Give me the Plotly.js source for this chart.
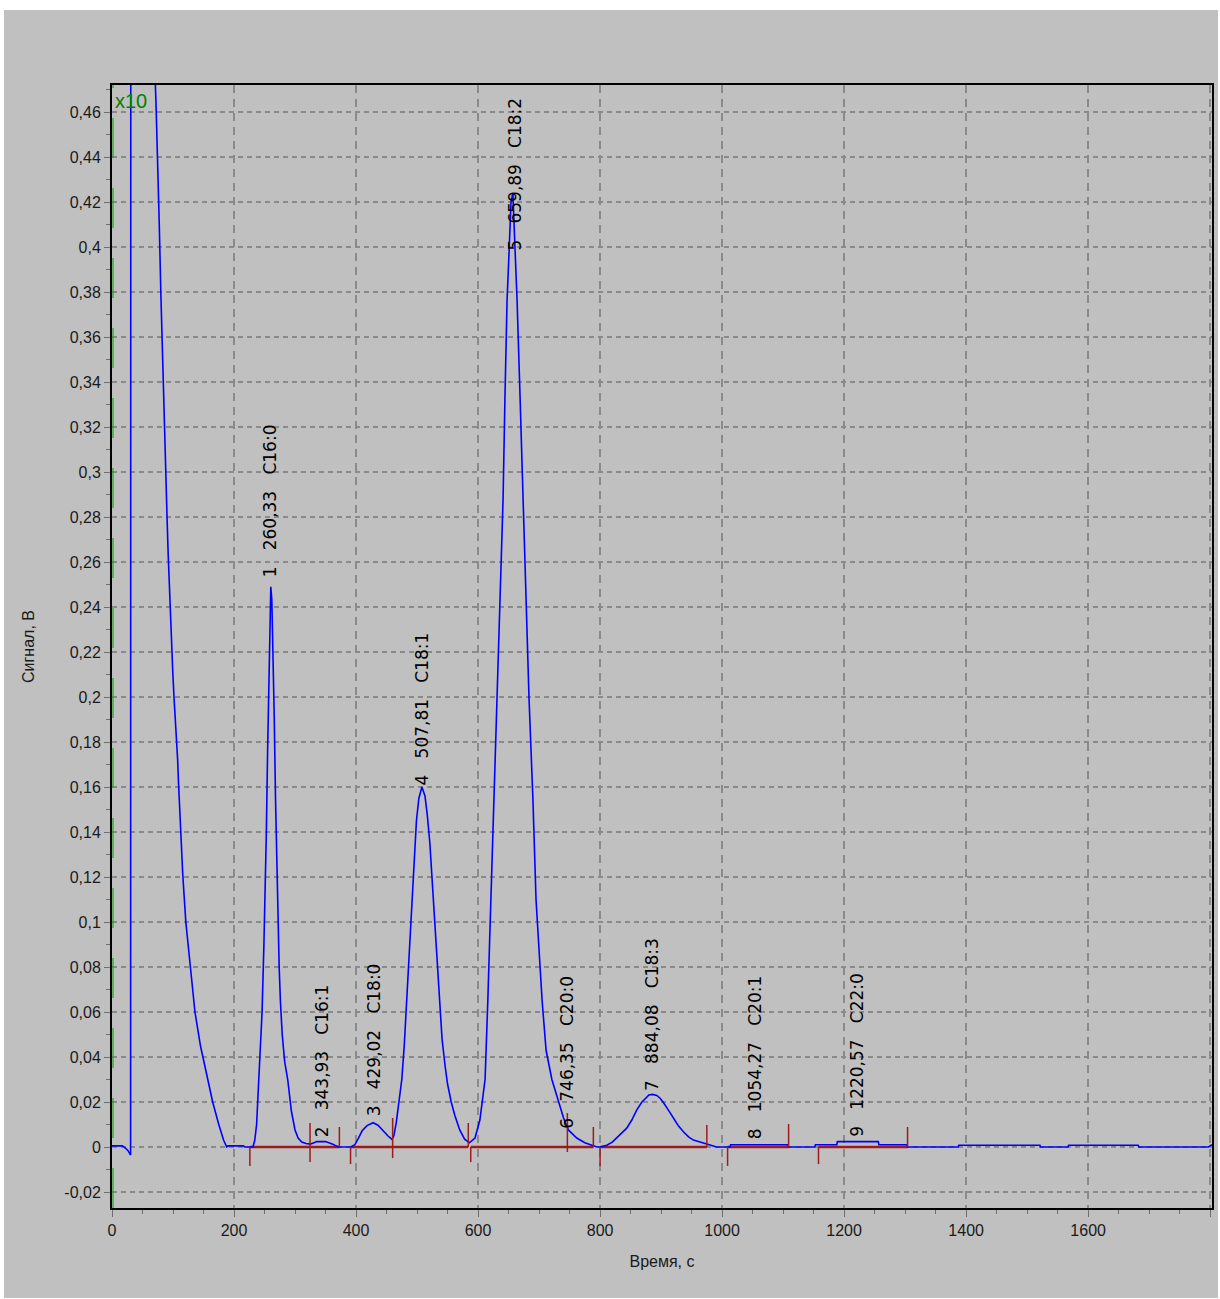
<!DOCTYPE html>
<html><head><meta charset="utf-8">
<script src="https://cdn.plot.ly/plotly-3.0.1.min.js"></script>
<style>
html,body{margin:0;padding:0;background:#fff;}
#chart{position:absolute;left:4px;top:10px;width:1214px;height:1288px;}
</style></head><body><div id="chart"></div>
<script>
// Chromatogram trace (time, s / signal, V)
const timeS = [
  0, 17, 21, 26, 30.5, 31.2, 60, 68, 70,
  72, 75, 77.5, 80, 82, 84, 86, 88, 90, 92, 94, 96, 98, 99.5, 101.6, 105, 107.6, 109, 112, 116, 121, 128, 136, 145, 155, 165, 175, 183, 188, 190, 215, 218, 231,
  234, 237, 239, 241, 243, 246, 249, 251, 253, 255, 257, 259, 260.3, 262, 264, 266, 268, 270, 272, 274, 276, 279, 283, 288, 294, 300, 305, 311, 318, 325, 330, 336, 350, 358, 362, 368, 372, 392,
  398, 404, 410, 418, 428, 436, 445, 452, 459,
  462, 466, 470, 475, 479, 483, 487, 491, 495, 499, 503, 508, 513, 517, 521, 525, 529, 533, 537, 541, 546, 550, 556, 562, 570, 578, 585.7,
  595, 603, 611.5, 616, 621, 626, 631, 636, 641, 644, 647.5, 651, 654, 657, 661, 664, 669, 674, 679, 683.6, 690, 695, 705, 711.5, 721, 731, 740, 748, 761.8, 775, 789, 795, 800,
  811, 820, 827, 835, 843.7, 852, 860, 868, 876.6, 880, 886, 893, 898, 903.8, 912, 920, 928, 936.6, 945, 953, 969, 983, 991, 1013, 1014, 1108, 1109, 1152, 1153, 1188, 1189, 1256, 1257, 1303, 1304, 1387, 1388, 1521, 1522, 1567, 1568, 1682, 1683, 1797, 1803
];
const signalV = [
  0.0005, 0.0005, -0.0003, -0.0015, -0.0036, 1.2, 1.2, 0.6, 0.48,
  0.465, 0.44, 0.41, 0.38, 0.36, 0.33, 0.31, 0.298, 0.282, 0.264, 0.248, 0.236, 0.224, 0.212, 0.2, 0.186, 0.172, 0.162, 0.142, 0.121, 0.1, 0.08, 0.06, 0.045, 0.032, 0.02, 0.01, 0.003, 0, 0.0005, 0.0005, 0, 0,
  0.003, 0.01, 0.02, 0.03, 0.045, 0.06, 0.09, 0.11, 0.14, 0.175, 0.21, 0.24, 0.249, 0.243, 0.22, 0.19, 0.155, 0.125, 0.1, 0.08, 0.065, 0.05, 0.038, 0.03, 0.016, 0.0076, 0.004, 0.0022, 0.0016, 0.0013, 0.0018, 0.0024, 0.0024, 0.0018, 0.0012, 0.0004, 0, 0,
  0.001, 0.004, 0.0072, 0.0095, 0.0108, 0.0097, 0.007, 0.005, 0.0034,
  0.005, 0.011, 0.02, 0.03, 0.045, 0.065, 0.09, 0.11, 0.13, 0.145, 0.155, 0.16, 0.156, 0.147, 0.135, 0.118, 0.1, 0.08, 0.062, 0.048, 0.036, 0.028, 0.02, 0.014, 0.0076, 0.0035, 0.0019,
  0.004, 0.012, 0.03, 0.065, 0.11, 0.154, 0.199, 0.243, 0.288, 0.332, 0.376, 0.399, 0.42, 0.424, 0.399, 0.376, 0.332, 0.288, 0.243, 0.199, 0.154, 0.11, 0.065, 0.043, 0.03, 0.021, 0.013, 0.0076, 0.004, 0.0019, 0.0008, 0, 0,
  0.0008, 0.0022, 0.004, 0.006, 0.0084, 0.012, 0.0164, 0.0198, 0.0224, 0.0231, 0.0234, 0.0229, 0.0218, 0.0198, 0.0164, 0.0129, 0.0096, 0.0068, 0.0045, 0.0031, 0.0019, 0.0008, 0, 0, 0.001, 0.001, 0, 0, 0.001, 0.001, 0.0024, 0.0024, 0.001, 0.001, 0, 0, 0.0008, 0.0008, 0, 0, 0.0008, 0.0008, 0, 0, 0.001
];

// Peaks
const peakTimes = [260.33, 343.93, 429.02, 507.81, 659.89, 746.35, 884.08, 1054.27, 1220.57];
const peakNames = ['C16:0', 'C16:1', 'C18:0', 'C18:1', 'C18:2', 'C20:0', 'C18:3', 'C20:1', 'C22:0'];
const labelLevels = [0.2529, 0.004, 0.0133, 0.1604, 0.398, 0.0076, 0.0244, 0.0031, 0.004];

// Integration baselines
const baseStart = [226, 324.6, 391, 460, 588, 747, 800, 1009, 1158];
const baseEnd   = [324.6, 372.7, 460, 584, 747, 789, 975, 1109, 1304];

// Integration marks (time, top, bottom)
const markTimes  = [226, 324.6, 372.7, 391, 460, 584, 588, 746.4, 789, 800, 975, 1009, 1109, 1158, 1304];
const markTop    = [0, 0.0107, 0.0089, 0, 0.0129, 0.0107, 0, 0.0151, 0.0089, 0, 0.0098, 0, 0.0102, 0, 0.0089];
const markBottom = [-0.0084, -0.0067, 0, -0.0076, -0.0049, 0, -0.0067, -0.0022, 0, -0.0084, 0, -0.0084, 0, -0.0076, 0];

// Y tick labels
const yTickVals = [-0.02, 0, 0.02, 0.04, 0.06, 0.08, 0.1, 0.12, 0.14, 0.16, 0.18, 0.2, 0.22, 0.24, 0.26, 0.28, 0.3, 0.32, 0.34, 0.36, 0.38, 0.4, 0.42, 0.44, 0.46];
const yTickText = ['-0,02', '0', '0,02', '0,04', '0,06', '0,08', '0,1', '0,12', '0,14', '0,16', '0,18', '0,2', '0,22', '0,24', '0,26', '0,28', '0,3', '0,32', '0,34', '0,36', '0,38', '0,4', '0,42', '0,44', '0,46'];

const RED = '#9b1c1c';
const bx = [], by = [];
baseStart.forEach((s, i) => { bx.push(s, baseEnd[i], null); by.push(0, 0, null); });
const mx = [], my = [];
markTimes.forEach((t, i) => { mx.push(t, t, null); my.push(markTop[i], markBottom[i], null); });

const traces = [
  {x: bx, y: by, mode: 'lines', line: {color: RED, width: 2.5}, hoverinfo: 'skip'},
  {x: timeS, y: signalV, mode: 'lines', line: {color: '#0000ff', width: 1.6}, hoverinfo: 'skip'},
  {x: mx, y: my, mode: 'lines', line: {color: RED, width: 1.5}, hoverinfo: 'skip'}
];

const sp = '\u00a0\u00a0\u00a0';
const annotations = peakTimes.map((t, i) => ({
  x: t, y: labelLevels[i], xref: 'x', yref: 'y',
  text: (i + 1) + sp + t.toFixed(2).replace('.', ',') + sp + peakNames[i],
  textangle: -90, showarrow: false, xanchor: 'center', yanchor: 'bottom',
  borderpad: 0,
  font: {family: 'DejaVu Sans, Liberation Sans, Arial', size: 17, color: '#000'}
}));
annotations.push({
  xref: 'paper', yref: 'paper', x: 0, y: 1, xanchor: 'left', yanchor: 'top',
  xshift: 1, yshift: -3, showarrow: false, text: 'x10',
  font: {family: 'Liberation Sans Narrow, Arial Narrow, Liberation Sans, Arial', size: 20, color: '#008000'}
});

const tickFont = {family: 'Liberation Sans, Arial', size: 16, color: '#1a1a1a'};

const layout = {
  paper_bgcolor: '#c0c0c0',
  plot_bgcolor: '#c0c0c0',
  margin: {l: 108, r: 6, t: 75, b: 90},
  showlegend: false,
  hovermode: false,
  xaxis: {
    range: [0, 1803], tickmode: 'linear', tick0: 0, dtick: 200,
    ticks: 'outside', ticklen: 7, tickwidth: 1, tickcolor: '#6e6e6e',
    showline: true, linecolor: '#000', linewidth: 2, mirror: true,
    showgrid: true, gridcolor: '#8a8a8a', gridwidth: 1.5, griddash: '8px,6px',
    zeroline: false, tickfont: tickFont,
    minor: {tickmode: 'linear', tick0: 0, dtick: 50, ticks: 'outside', ticklen: 4, tickcolor: '#6e6e6e', showgrid: false},
    title: {text: 'Время, с', font: {family: 'Liberation Sans, Arial', size: 16, color: '#1a1a1a'}, standoff: 18}
  },
  yaxis: {
    range: [-0.0271, 0.472], tickmode: 'array', tickvals: yTickVals, ticktext: yTickText,
    ticks: 'outside', ticklen: 6, tickwidth: 1, tickcolor: '#6e6e6e',
    showline: true, linecolor: '#000', linewidth: 2, mirror: true,
    showgrid: true, gridcolor: '#8a8a8a', gridwidth: 1.5, griddash: '5px,4px',
    zeroline: false, tickfont: tickFont,
    minor: {tickmode: 'linear', tick0: 0, dtick: 0.01, ticks: 'outside', ticklen: 4, tickcolor: '#6e6e6e', showgrid: false},
    title: {text: 'Сигнал, В', font: {family: 'Liberation Sans, Arial', size: 16, color: '#1a1a1a'}, standoff: 26}
  },
  shapes: [{
    type: 'line', xref: 'x', yref: 'paper', xsizemode: 'pixel', xanchor: 0,
    x0: 1, x1: 1, y0: 0, y1: 1,
    line: {color: '#00a000', width: 1, dash: '40px,30px'}
  }],
  annotations: annotations
};

Plotly.newPlot('chart', traces, layout, {displayModeBar: false, staticPlot: true});
</script></body></html>
